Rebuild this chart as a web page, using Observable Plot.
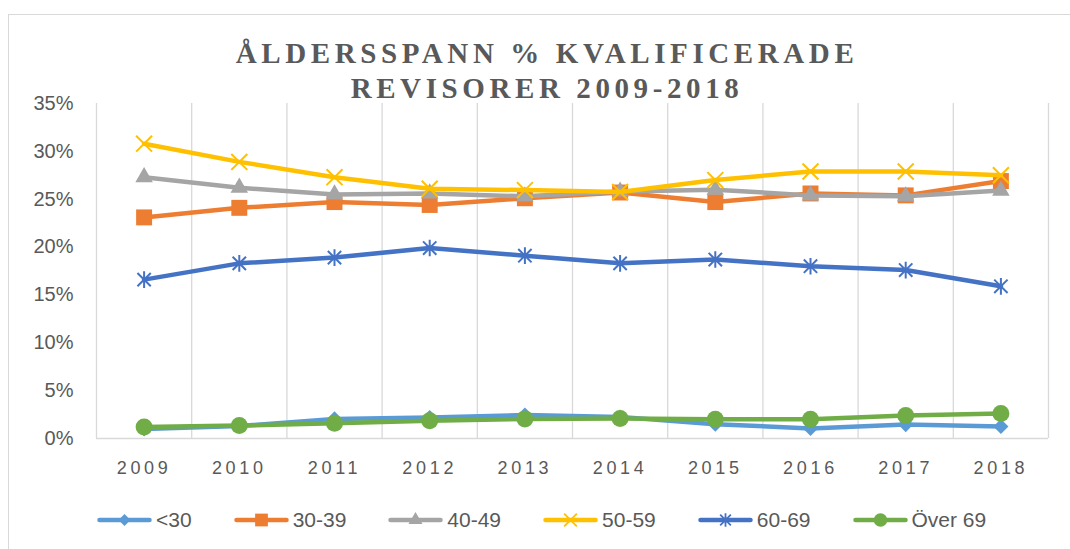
<!DOCTYPE html>
<html>
<head>
<meta charset="utf-8">
<script src="https://cdn.jsdelivr.net/npm/d3@7"></script>
<script src="https://cdn.jsdelivr.net/npm/@observablehq/plot@0.6"></script>
<style>
  html, body { margin: 0; padding: 0; background: #fff; width: 1070px; height: 549px; overflow: hidden; }
  #frame { position: absolute; left: 8px; top: 14px; width: 1100px; height: 600px; border: 1px solid #d9d9d9; box-sizing: border-box; }
  .tline { position: absolute; left: 0; width: 1094px; text-align: center; font-family: "Liberation Serif", "DejaVu Serif", serif; font-weight: bold; font-size: 29px; line-height: 29px; letter-spacing: 4.6px; color: #595959; white-space: nowrap; }
  #chart { position: absolute; left: 0; top: 95px; }
  #chart svg g[aria-label="y-axis tick label"] text { font-size: 20px; }
  #chart svg g[aria-label="x-axis tick label"] text { font-size: 18px; letter-spacing: 3.7px; }
  #legend { position: absolute; left: 97px; top: 508px; display: flex; gap: 42px; align-items: center; font-family: "Liberation Sans", Arial, sans-serif; font-size: 21px; color: #595959; }
  .item { display: flex; align-items: center; gap: 4px; white-space: nowrap; }
</style>
</head>
<body>
<div id="frame"></div>
<div class="tline" style="top:39px">ÅLDERSSPANN % KVALIFICERADE</div>
<div class="tline" style="top:74px">REVISORER 2009-2018</div>
<div id="chart"></div>
<div id="legend"></div>
<script>
// ---- data ----
const years = [2009, 2010, 2011, 2012, 2013, 2014, 2015, 2016, 2017, 2018];
const seriesNames = ["<30", "30-39", "40-49", "50-59", "60-69", "Över 69"];
const under30 = [1.0, 1.3, 2.05, 2.2, 2.45, 2.25, 1.5, 1.05, 1.45, 1.25];
const age3039 = [23.1, 24.1, 24.7, 24.4, 25.1, 25.7, 24.7, 25.6, 25.4, 26.9];
const age4049 = [27.3, 26.2, 25.5, 25.6, 25.3, 25.8, 26.0, 25.4, 25.3, 25.9];
const age5059 = [30.8, 28.9, 27.3, 26.1, 25.95, 25.75, 27.0, 27.9, 27.9, 27.5];
const age6069 = [16.6, 18.3, 18.9, 19.9, 19.1, 18.3, 18.7, 18.0, 17.6, 15.9];
const over69 = [1.2, 1.35, 1.6, 1.85, 2.05, 2.1, 2.0, 2.0, 2.4, 2.6];
const yTicks = [0, 5, 10, 15, 20, 25, 30, 35];

// ---- styles ----
const seriesValues = [under30, age3039, age4049, age5059, age6069, over69];
const colors = ["#5b9bd5", "#ed7d31", "#a5a5a5", "#ffc000", "#4472c4", "#70ad47"];
// Excel-style star marker: an X with a vertical stroke
const excelStar = {
  draw(context, size) {
    const r = Math.sqrt(size) * 0.56;
    const d = r * 0.8;
    context.moveTo(0, -r); context.lineTo(0, r);
    context.moveTo(-d, -d); context.lineTo(d, d);
    context.moveTo(-d, d); context.lineTo(d, -d);
  }
};
const symbols = [d3.symbolDiamond2, d3.symbolSquare, d3.symbolTriangle, d3.symbolTimes, excelStar, d3.symbolCircle];
const radii = [6.8, 9, 6.5, 7.3, 8.4, 8.5];
const stroked = [false, false, false, true, true, false];

const boundaries = years.map(y => y - 0.5).concat([years[years.length - 1] + 0.5]);

const marks = [
  Plot.ruleX(boundaries, {stroke: "#d9d9d9", strokeWidth: 1.3}),
  Plot.ruleY([0], {stroke: "#d9d9d9", strokeWidth: 1.5})
];
seriesNames.forEach((name, s) => {
  const rows = years.map((yr, i) => ({year: yr, value: seriesValues[s][i], series: name}));
  marks.push(Plot.line(rows, {x: "year", y: "value", stroke: colors[s], strokeWidth: 4.5, strokeLinejoin: "round", strokeLinecap: "round"}));
  marks.push(Plot.dot(rows, stroked[s]
    ? {x: "year", y: "value", symbol: () => symbols[s], r: radii[s], stroke: colors[s], strokeWidth: 2, fill: "none"}
    : {x: "year", y: "value", symbol: () => symbols[s], r: radii[s], fill: colors[s], stroke: "none"}));
});

const chart = Plot.plot({
  width: 1070,
  height: 395,
  marginTop: 8,
  marginBottom: 52,
  marginLeft: 96,
  marginRight: 22,
  style: {color: "#595959", fontFamily: "'Liberation Sans', Arial, sans-serif", background: "transparent", overflow: "visible"},
  symbol: {type: "identity"},
  x: {domain: [2008.5, 2018.5], ticks: years, tickFormat: d => String(d), tickSize: 0, tickPadding: 23, label: null, dx: 2},
  y: {domain: [0, 35], ticks: yTicks, tickFormat: d => d + "%", tickSize: 0, tickPadding: 23, label: null},
  marks
});
document.getElementById("chart").appendChild(chart);

// ---- legend ----
const legend = document.getElementById("legend");
seriesNames.forEach((name, s) => {
  const item = document.createElement("div");
  item.className = "item";
  const ns = "http://www.w3.org/2000/svg";
  const svg = document.createElementNS(ns, "svg");
  svg.setAttribute("width", 55);
  svg.setAttribute("height", 20);
  const line = document.createElementNS(ns, "line");
  line.setAttribute("x1", 2.5); line.setAttribute("x2", 52.5);
  line.setAttribute("y1", 10); line.setAttribute("y2", 10);
  line.setAttribute("stroke", colors[s]); line.setAttribute("stroke-width", 4.5);
  line.setAttribute("stroke-linecap", "round");
  svg.appendChild(line);
  const r = radii[s] * 0.8;
  const path = document.createElementNS(ns, "path");
  path.setAttribute("d", d3.symbol(symbols[s], r * r * Math.PI)());
  path.setAttribute("transform", "translate(27.5,10)");
  if (stroked[s]) { path.setAttribute("fill", "none"); path.setAttribute("stroke", colors[s]); path.setAttribute("stroke-width", 1.8); }
  else { path.setAttribute("fill", colors[s]); }
  svg.appendChild(path);
  item.appendChild(svg);
  const label = document.createElement("span");
  label.textContent = name;
  item.appendChild(label);
  legend.appendChild(item);
});
</script>
</body>
</html>
